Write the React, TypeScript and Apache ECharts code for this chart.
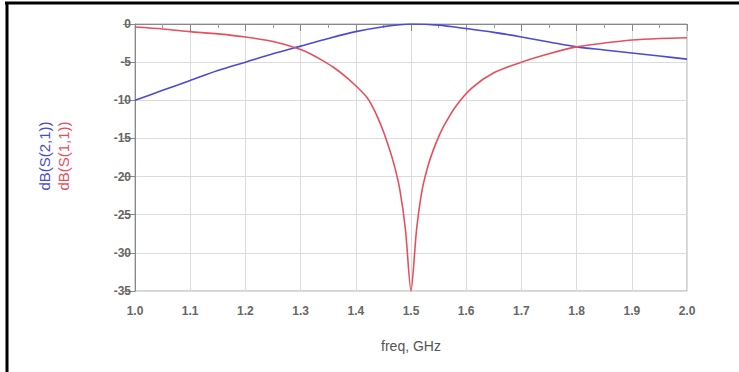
import React, { useEffect, useRef } from "react";
import * as echarts from "echarts";

const s21Freq = [1.0, 1.05, 1.1, 1.15, 1.2, 1.25, 1.3, 1.35, 1.4, 1.45, 1.5, 1.55, 1.6, 1.65, 1.7, 1.75, 1.8, 1.85, 1.9, 1.95, 2.0];
const s21Db = [-10, -8.7, -7.4, -6.1, -5.0, -3.9, -2.9, -1.9, -1.0, -0.35, 0, -0.15, -0.6, -1.1, -1.7, -2.35, -3.0, -3.4, -3.8, -4.2, -4.6];

const s11Freq = [1.0, 1.05, 1.1, 1.15, 1.2, 1.25, 1.3, 1.32, 1.34, 1.36, 1.38, 1.4, 1.42, 1.43, 1.44, 1.45, 1.46, 1.47, 1.48, 1.49, 1.5, 1.51, 1.52, 1.53, 1.54, 1.55, 1.56, 1.58, 1.61, 1.65, 1.7, 1.75, 1.8, 1.85, 1.9, 1.95, 2.0];
const s11Db = [-0.4, -0.65, -1.0, -1.3, -1.7, -2.3, -3.35, -4.0, -4.8, -5.7, -6.8, -8.1, -9.6, -10.8, -12.3, -14.1, -16.2, -18.6, -21.8, -27, -35, -27, -21.8, -18.8, -16.6, -14.8, -13.3, -10.9, -8.4, -6.4, -5.0, -3.9, -3.0, -2.5, -2.1, -1.9, -1.8];

const xTickLabels = ["1.0", "1.1", "1.2", "1.3", "1.4", "1.5", "1.6", "1.7", "1.8", "1.9", "2.0"];
const yTicks = [0, -5, -10, -15, -20, -25, -30, -35];

export default function App() {
  const ref = useRef<HTMLDivElement>(null);
  useEffect(() => {
    if (!ref.current) return;
    const chart = echarts.init(ref.current, undefined, { renderer: "svg" });
    const font = "Liberation Sans, Arial, sans-serif";
    chart.setOption({
      animation: false,
      backgroundColor: "#ffffff",
      grid: {
        left: 135,
        right: 52,
        top: 24,
        bottom: 81,
        show: true,
        borderColor: "#a8a8a8",
        borderWidth: 1,
        backgroundColor: "transparent",
      },
      xAxis: {
        type: "value",
        min: 1,
        max: 2,
        interval: 0.1,
        name: "freq, GHz",
        nameLocation: "middle",
        nameGap: 48,
        nameTextStyle: { color: "#555", fontSize: 14, fontFamily: font },
        axisLine: { show: true, lineStyle: { color: "#888", width: 1 } },
        axisTick: { show: true, inside: false, length: 7, lineStyle: { color: "#888" } },
        minorTick: { show: true, splitNumber: 2, length: 4, lineStyle: { color: "#999" } },
        axisLabel: {
          color: "#666",
          fontSize: 12,
          fontWeight: "bold",
          fontFamily: font,
          margin: 14,
          formatter: (v: number) => {
            const idx = Math.round((v - 1) * 10);
            return xTickLabels[idx] ?? "";
          },
        },
        splitLine: { show: true, lineStyle: { color: "#dcdcdc", width: 1 } },
      },
      yAxis: {
        type: "value",
        min: -35,
        max: 0,
        interval: 5,
        axisLine: { show: true, lineStyle: { color: "#888", width: 1 } },
        axisTick: { show: true, inside: false, length: 12, lineStyle: { color: "#888" } },
        axisLabel: {
          color: "#666",
          fontSize: 12,
          fontWeight: "bold",
          fontFamily: font,
          margin: 4,
          formatter: (v: number) => (yTicks.includes(v) ? String(v) : ""),
        },
        splitLine: { show: true, lineStyle: { color: "#dcdcdc", width: 1 } },
      },
      series: [
        {
          name: "dB(S(2,1))",
          type: "line",
          data: s21Freq.map((f, i) => [f, s21Db[i]]),
          showSymbol: false,
          smooth: 0.3,
          lineStyle: { color: "#4a4ad8", width: 1.6 },
          itemStyle: { color: "#4a4ad8" },
        },
        {
          name: "dB(S(1,1))",
          type: "line",
          data: s11Freq.map((f, i) => [f, s11Db[i]]),
          showSymbol: false,
          smooth: 0.25,
          lineStyle: { color: "#e5505c", width: 1.6 },
          itemStyle: { color: "#e5505c" },
        },
      ],
      graphic: [
        {
          type: "text",
          x: 44,
          y: 156,
          rotation: Math.PI / 2,
          style: {
            text: "dB(S(2,1))",
            fill: "#4a4ad8",
            fontSize: 15,
            fontFamily: font,
            align: "center",
            verticalAlign: "middle",
          },
        },
        {
          type: "text",
          x: 63,
          y: 156,
          rotation: Math.PI / 2,
          style: {
            text: "dB(S(1,1))",
            fill: "#e5505c",
            fontSize: 15,
            fontFamily: font,
            align: "center",
            verticalAlign: "middle",
          },
        },
        {
          type: "line",
          shape: { x1: 5, y1: 3, x2: 739, y2: 3 },
          style: { stroke: "#000", lineWidth: 3 },
        },
        {
          type: "line",
          shape: { x1: 7, y1: 2, x2: 7, y2: 372 },
          style: { stroke: "#000", lineWidth: 3 },
        },
      ],
    });
    return () => chart.dispose();
  }, []);
  return (
    <div
      ref={ref}
      style={{ position: "fixed", left: 0, top: 0, width: 739, height: 372 }}
    />
  );
}
